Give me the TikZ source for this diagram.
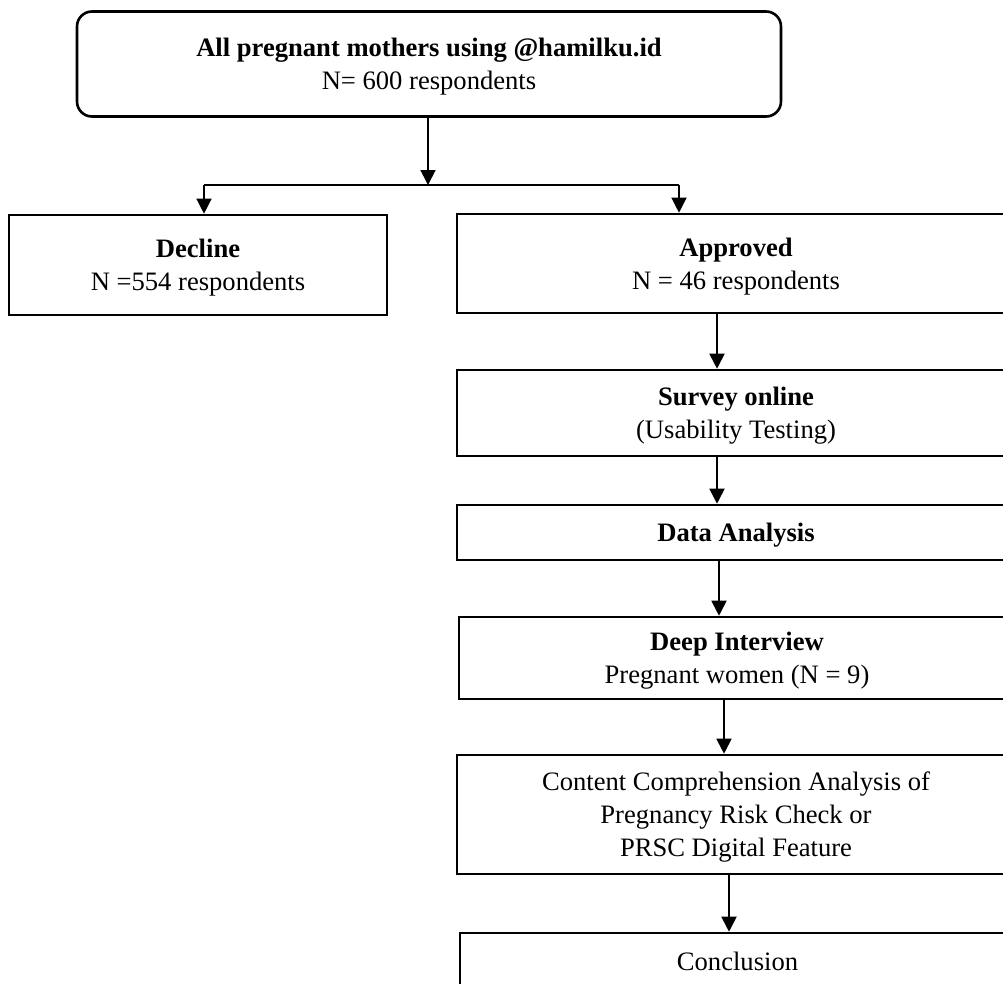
\documentclass[tikz,border=0pt]{standalone}
\usepackage{fontspec}
\setmainfont{Liberation Serif}
\usetikzlibrary{arrows.meta}
\begin{document}
\begin{tikzpicture}[x=1pt,y=-1pt,
  box/.style={draw, line width=2.6pt, align=center, inner sep=0pt, text depth=0pt, font=\fontsize{26.6}{33}\selectfont},
  arr/.style={line width=1.8pt, -{Triangle[width=15pt,length=15pt]}},
  splitarr/.style={line width=1.3pt, -{Triangle[width=15pt,length=15pt]}},
  thinline/.style={line width=1.3pt}]
\path[use as bounding box] (0,0) rectangle (1003,983);
\clip (0,0) rectangle (1003,983);
\node[box, rounded corners=15pt, minimum width=704pt, minimum height=105pt] (top) at (429,64)
  {\textbf{All pregnant mothers using @hamilku.id}\\N= 600 respondents};
\node[box, minimum width=378pt, minimum height=100pt] (decline) at (198,265)
  {\textbf{Decline}\\N =554 respondents};
\node[box, minimum width=558pt, minimum height=99pt] (approved) at (736,263.5)
  {\textbf{Approved}\\N = 46 respondents};
\node[box, minimum width=558pt, minimum height=86pt] (survey) at (736,413)
  {\textbf{Survey online}\\(Usability Testing)};
\node[box, minimum width=558pt, minimum height=55pt] (data) at (736,532.5)
  {\textbf{Data Analysis}};
\node[box, minimum width=556pt, minimum height=82pt] (deep) at (737,658)
  {\textbf{Deep Interview}\\Pregnant women (N = 9)};
\node[box, minimum width=558pt, minimum height=119pt] (content) at (736,814.5)
  {Content Comprehension Analysis of\\Pregnancy Risk Check or\\PRSC Digital Feature};
\node[box, minimum width=555pt, minimum height=56pt] (concl) at (737.5,961)
  {Conclusion};
% connector coordinates
\coordinate (split) at (428,185);
\coordinate (sl) at (204,185);
\coordinate (sr) at (679,185);
\coordinate (xa) at (717,0);
\coordinate (xb) at (717,0);
\coordinate (xc) at (719,0);
\coordinate (xd) at (724,0);
\coordinate (xe) at (729,0);
\draw[arr] (top.south -| split) -- (split);
\draw[thinline] (sl) -- (sr);
\draw[splitarr] (sl) -- (decline.north -| sl);
\draw[splitarr] (sr) -- (approved.north -| sr);
\draw[arr] (approved.south -| xa) -- (survey.north -| xa);
\draw[arr] (survey.south -| xb) -- (data.north -| xb);
\draw[arr] (data.south -| xc) -- (deep.north -| xc);
\draw[arr] (deep.south -| xd) -- (content.north -| xd);
\draw[arr] (content.south -| xe) -- (concl.north -| xe);
\end{tikzpicture}
\end{document}
